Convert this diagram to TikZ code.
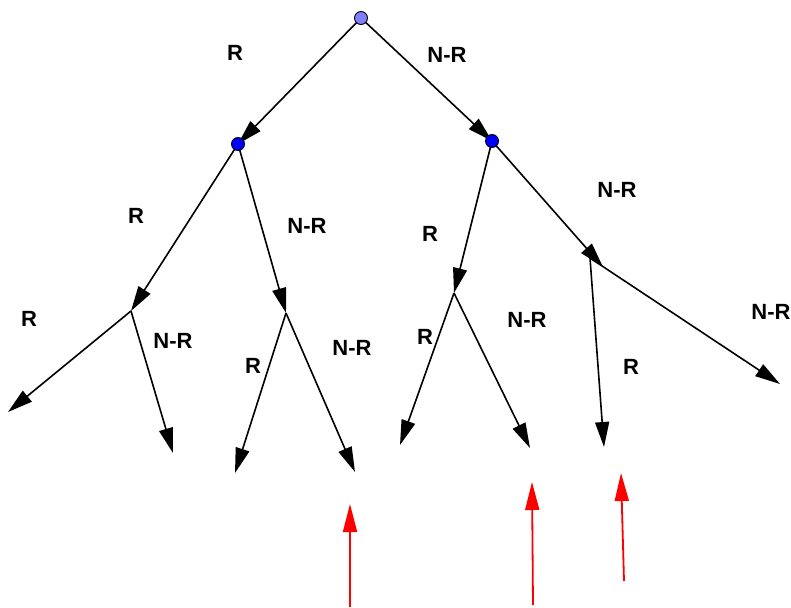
\documentclass[tikz,border=0pt]{standalone}
\usepackage{fontspec}
\setmainfont{Liberation Sans}
\usetikzlibrary{arrows.meta}
\begin{document}
\begin{tikzpicture}[x=1pt,y=-1pt,
  edge/.style={line width=1.6pt,-{Triangle[length=25pt,width=14pt]}},
  redarr/.style={line width=1.8pt,red,-{Triangle[length=28pt,width=14pt]}},
  pt/.style={circle,draw=black,line width=0.9pt,minimum size=13pt,inner sep=0pt},
  lbl/.style={font=\fontsize{22}{22}\selectfont\bfseries,inner sep=0pt}]
\useasboundingbox (0,0) rectangle (791,607);
% points
\coordinate (root) at (361,18);
\coordinate (L) at (238,144);
\coordinate (R) at (492,141);
\coordinate (LL) at (131,311);
\coordinate (LR) at (286,313);
\coordinate (RL) at (454,293);
\coordinate (RR) at (590,258);
\coordinate (RRtip) at (603,267);
\coordinate (LLa) at (8,412);
\coordinate (LLb) at (173,453);
\coordinate (LRa) at (235,473);
\coordinate (LRb) at (355,472);
\coordinate (RLa) at (400,445);
\coordinate (RLb) at (530,448);
\coordinate (RRa) at (604,447);
\coordinate (RRb) at (780,384);
\coordinate (r1s) at (350,607);
\coordinate (r1e) at (350,504);
\coordinate (r2s) at (533,605);
\coordinate (r2e) at (532,482);
\coordinate (r3s) at (624,581);
\coordinate (r3e) at (621,473);
% edges
\draw[edge] (root) -- (L);
\draw[edge] (root) -- (R);
\draw[edge] (L) -- (LL);
\draw[edge] (L) -- (LR);
\draw[edge] (R) -- (RL);
\draw[edge] (R) -- (RRtip);
\draw[edge] (LL) -- (LLa);
\draw[edge] (LL) -- (LLb);
\draw[edge] (LR) -- (LRa);
\draw[edge] (LR) -- (LRb);
\draw[edge] (RL) -- (RLa);
\draw[edge] (RL) -- (RLb);
\draw[edge] (RR) -- (RRa);
\draw[edge] (RR) -- (RRb);
% red arrows
\draw[redarr] (r1s) -- (r1e);
\draw[redarr] (r2s) -- (r2e);
\draw[redarr] (r3s) -- (r3e);
% points on top
\node[pt,fill={rgb,255:red,128;green,128;blue,255}] (nroot) at (root) {};
\node[pt,fill={rgb,255:red,0;green,0;blue,255}] (nL) at (L) {};
\node[pt,fill={rgb,255:red,0;green,0;blue,255}] (nR) at (R) {};
% labels
\node[lbl] (t1) at (235,53) {R};
\node[lbl] (t2) at (447,55) {N-R};
\node[lbl] (t3) at (136,216) {R};
\node[lbl] (t4) at (307,226) {N-R};
\node[lbl] (t5) at (430,234) {R};
\node[lbl] (t6) at (617,190) {N-R};
\node[lbl] (t7) at (29,319) {R};
\node[lbl] (t8) at (173,341) {N-R};
\node[lbl] (t9) at (253,366) {R};
\node[lbl] (t10) at (352,348) {N-R};
\node[lbl] (t11) at (425,337) {R};
\node[lbl] (t12) at (527,320) {N-R};
\node[lbl] (t13) at (631,367) {R};
\node[lbl] (t14) at (771,312) {N-R};
\end{tikzpicture}
\end{document}
